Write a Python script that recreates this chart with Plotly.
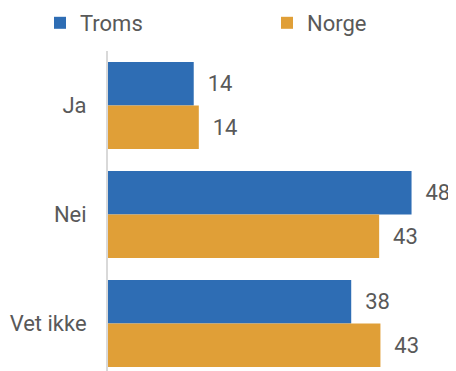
import plotly.graph_objects as go

categories = ["Ja", "Nei", "Vet ikke"]
troms = [13.5, 47.8, 38.3]
norge = [14.3, 42.7, 42.9]
series_names = ["Troms", "Norge"]
colors = ["#2E6DB4", "#E09F37"]

FONT = "Roboto"
TXT = "#595959"
FS = 22

# page body has an 8px default margin, so the figure is sized/positioned to compensate
W, H = 448, 363
L, T = 100, 43
PW, PH = W - L, H - T

legend_ids = ["legend", "legend2"]
legend_x_px = [32, 259]

fig = go.Figure()
for name, vals, col, lg in zip(series_names, [troms, norge], colors, legend_ids):
    fig.add_trace(go.Bar(
        y=categories, x=vals, name=name, orientation="h",
        marker=dict(color=col, line=dict(width=0)),
        texttemplate="  %{x:.0f}", textposition="outside",
        textfont=dict(family=FONT, size=FS, color=TXT),
        cliponaxis=False, legend=lg,
    ))

legend_common = dict(orientation="h", xanchor="left",
                     y=1 + (T - 15) / PH, yanchor="middle",
                     font=dict(family=FONT, size=FS, color=TXT),
                     itemwidth=30, bgcolor="rgba(0,0,0,0)")

fig.update_layout(
    width=W, height=H,
    margin=dict(l=L, r=0, t=T, b=0, autoexpand=False),
    paper_bgcolor="white", plot_bgcolor="white",
    barmode="group", bargap=0.2, bargroupgap=0,
    font=dict(family=FONT, size=FS, color=TXT),
    showlegend=True,
    legend=dict(x=(legend_x_px[0] - L) / PW, **legend_common),
    legend2=dict(x=(legend_x_px[1] - L) / PW, **legend_common),
)
fig.update_xaxes(range=[0, 54.8], visible=False, showgrid=False, zeroline=False)
fig.update_yaxes(categoryorder="array", categoryarray=categories,
                 range=[2.436, -0.5], showline=True, linecolor="#D9D9D9",
                 linewidth=2, ticks="", showgrid=False, zeroline=False,
                 ticklabelstandoff=15, automargin=False,
                 tickfont=dict(family=FONT, size=FS, color=TXT))

fig.write_html("out.html")
